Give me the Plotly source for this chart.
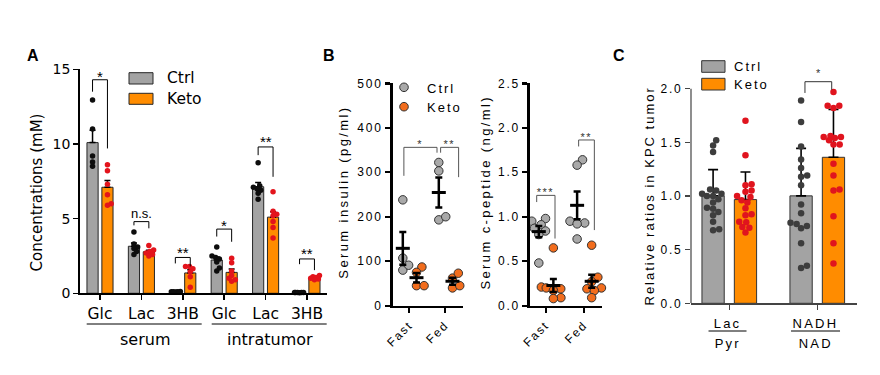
import numpy as np
import plotly.graph_objects as go

W, H = 880, 375

# ---------------- data ----------------
# Panel A : concentrations (mM)
a_cats = ["Glc", "Lac", "3HB", "Glc", "Lac", "3HB"]
a_groups = ["serum", "intratumor"]
a_ctrl = [
    [12.95, 11.0, 9.2, 8.8, 8.5],
    [4.1, 3.3, 3.1, 3.0, 2.8, 2.6],
    [0.12, 0.10, 0.10, 0.08, 0.10, 0.09],
    [3.1, 2.5, 2.4, 2.3, 2.1, 1.7, 1.5],
    [8.75, 7.2, 7.1, 7.0, 6.9, 6.7, 6.3],
    [0.05, 0.05, 0.06, 0.04, 0.05, 0.05],
]
a_keto = [
    [8.6, 8.2, 7.3, 6.6, 6.0, 5.9],
    [3.2, 2.9, 2.8, 2.7, 2.6, 2.5],
    [1.79, 1.79, 1.65, 1.45, 1.1, 0.4],
    [2.35, 2.05, 1.5, 1.2, 1.0, 0.9, 0.8],
    [6.8, 5.5, 5.3, 5.2, 4.8, 4.4, 3.7],
    [1.2, 1.1, 1.05, 1.0, 0.95, 0.9],
]
a_sig = ["*", "n.s.", "**", "*", "**", "**"]
# (bracket top, left leg end, right leg end, label centre)
a_brackets = [(14.3, 13.5, 9.7, 14.8), (4.8, 4.55, 4.35, 5.35), (2.4, 2.0, 1.8, 3.0),
              (4.3, 3.8, 3.45, 4.8), (9.8, 9.25, 7.8, 10.4), (2.3, 1.95, 1.55, 2.9)]

# Panel B : serum insulin (pg/ml) and c-peptide (ng/ml)
b_cats = ["Fast", "Fed"]
ins_ctrl = [[238, 107, 80, 91], [322, 303, 193, 200]]
ins_keto = [[87, 75, 45, 45], [62, 73, 40, 45]]
cpep_ctrl = [[0.98, 0.95, 0.91, 0.87, 0.84, 0.80, 0.48], [1.64, 1.58, 0.95, 0.93, 0.92, 0.75]]
cpep_keto = [[0.65, 0.21, 0.20, 0.19, 0.17, 0.09, 0.08], [0.68, 0.32, 0.27, 0.20, 0.19, 0.17, 0.09]]
# (x left, x right, top, left end, right end, label, label y)
ins_brackets = [(-0.15, 0.77, 356, 292, 344, "*", 371), (0.87, 1.37, 356, 344, 289, "**", 371)]
cpep_brackets = [(-0.235, 0.243, 1.24, 1.165, 0.755, "***", 1.31), (0.86, 1.27, 1.863, 1.79, 0.85, "**", 1.93)]

# Panel C : relative ratios in KPC tumor
c_num = ["Lac", "NADH"]
c_den = ["Pyr", "NAD"]
c_ctrl = [
    [1.52, 1.47, 1.41, 1.06, 1.05, 1.02, 1.02, 1.0, 1.0, 0.97, 0.94, 0.89, 0.88, 0.85, 0.82, 0.76, 0.69, 0.68],
    [1.89, 1.69, 1.46, 1.34, 1.26, 1.19, 1.18, 1.10, 0.92, 0.84, 0.75, 0.74, 0.72, 0.70, 0.56, 0.35, 0.33],
]
c_keto = [
    [1.70, 1.38, 1.11, 1.10, 1.05, 1.04, 1.0, 0.99, 0.96, 0.94, 0.885, 0.83, 0.82, 0.76, 0.755, 0.71, 0.705, 0.66],
    [1.97, 1.84, 1.84, 1.82, 1.56, 1.55, 1.55, 1.54, 1.52, 1.48, 1.48, 1.30, 1.19, 1.06, 1.05, 0.81, 0.56, 0.37],
]
c_brackets = [(0.86, 1.164, 2.065, 1.96, 1.99, "*", 2.17)]

# ---------------- geometry / style ----------------
GEO = {
    "A": dict(x=(80, 326.7), y=(69.3, 293.3), xr=(-0.483, 5.476), yr=(0, 15)),
    "B1": dict(x=(392.7, 463), y=(83.3, 305.7), xr=(-0.461, 1.492), yr=(0, 500)),
    "B2": dict(x=(530, 601.7), y=(83.3, 305.7), xr=(-0.41, 1.462), yr=(0, 2.5)),
    "C": dict(x=(691, 856.7), y=(67.2, 303.3), xr=(-0.435, 1.448), yr=(0, 2.2)),
}
FA = "DejaVu Sans"
FB = "Liberation Sans"
GREY_A, ORANGE = "#a3a3a3", "#ff8c00"
DOT_CTRL_A, DOT_KETO_A = "#0d0d0d", "#e3141c"
B_CTRL, B_KETO = "#a9a9a9", "#f26d1d"
C_CTRL_DOT, C_KETO_DOT = "#3d3d3d", "#e0141e"


def scales(g):
    xs = (g["x"][1] - g["x"][0]) / (g["xr"][1] - g["xr"][0])
    ys = (g["y"][1] - g["y"][0]) / (g["yr"][1] - g["yr"][0])
    return xs, ys


def mean(v):
    return float(np.mean(v))


def sem(v):
    return float(np.std(v, ddof=1) / np.sqrt(len(v)))


def sd(v):
    return float(np.std(v, ddof=1))


def swarm(vals, ys, d, maxoff):
    """Beeswarm offsets (px) so that markers of diameter d don't overlap."""
    order = np.argsort(vals, kind="stable")
    placed = []
    offs = [0.0] * len(vals)
    grid = list(np.arange(-maxoff, maxoff + 0.01, 0.5))
    for i in order:
        y = vals[i] * ys
        cands = [0.0]
        for py, px in placed:
            dy = abs(py - y)
            if dy < d:
                dx = np.sqrt(d * d - dy * dy)
                cands += [px + dx + 1e-6, px - dx - 1e-6]
        cands = [c for c in cands if abs(c) <= maxoff]
        ok = [c for c in cands if all((c - px) ** 2 + (y - py) ** 2 >= d * d - 1e-6 for py, px in placed)]
        if ok:
            best = min(ok, key=lambda c: (round(abs(c), 4), -c))
        else:
            best = max(grid, key=lambda c: (min((c - px) ** 2 + (y - py) ** 2 for py, px in placed), -abs(c)))
        placed.append((y, best))
        offs[i] = best
    return offs


fig = go.Figure()
shapes, anns = [], []


def pann(text, x, y, size, font=FB, color="black", xanchor="center", yanchor="middle",
         angle=0, ls=None, bold=False, xref="paper", yref="paper", yshift=0):
    a = dict(text=("<b>%s</b>" % text) if bold else text, showarrow=False,
             x=x / W if xref == "paper" else x, y=1 - y / H if yref == "paper" else y,
             xref=xref, yref=yref, xanchor=xanchor, yanchor=yanchor, textangle=angle,
             font=dict(family=font, size=size, color=color), yshift=yshift)
    if ls is not None:
        a["name"] = "ls%s" % ls
    anns.append(a)


def bracket(xref, yref, x0, x1, top, yl, yr, color, width):
    shapes.append(dict(type="path", xref=xref, yref=yref,
                       path="M %f,%f L %f,%f L %f,%f L %f,%f" % (x0, yl, x0, top, x1, top, x1, yr),
                       line=dict(color=color, width=width)))


# ---------------- Panel A ----------------
gA = GEO["A"]
xsA, ysA = scales(gA)
OFF_A, BW_A = 0.18, 0.27
pos = list(range(len(a_cats)))
for vals, off, col in [(a_ctrl, -OFF_A, GREY_A), (a_keto, OFF_A, ORANGE)]:
    fig.add_bar(x=[p + off for p in pos], y=[mean(v) for v in vals], width=BW_A,
                marker=dict(color=col, line=dict(color="#262626", width=1)),
                error_y=dict(type="data", symmetric=False, array=[sem(v) for v in vals],
                             arrayminus=[0] * len(vals), color="black", thickness=1.5, width=3),
                xaxis="x", yaxis="y", showlegend=False, hoverinfo="skip")
for vals, off, col in [(a_ctrl, -OFF_A, DOT_CTRL_A), (a_keto, OFF_A, DOT_KETO_A)]:
    xx, yy = [], []
    for p, v in zip(pos, vals):
        o = swarm(v, ysA, 4.0, 5.0)
        xx += [p + off + oo / xsA for oo in o]
        yy += v
    fig.add_scatter(x=xx, y=yy, mode="markers", marker=dict(size=5.5, color=col),
                    cliponaxis=False, xaxis="x", yaxis="y", showlegend=False, hoverinfo="skip")
for p, (top, yl, yr, ly), s in zip(pos, a_brackets, a_sig):
    bracket("x", "y", p - OFF_A, p + OFF_A, top, yl, yr, "black", 1)
    if s == "n.s.":
        pann(s, p, ly, 13, font=FB, xref="x", yref="y")
    else:
        pann(s, p, ly, 15, font=FB, xref="x", yref="y", yshift=-4)

# group labels under the x axis
for (x0, x1), name in zip([(86.7, 201.7), (211.7, 326.7)], a_groups):
    shapes.append(dict(type="line", xref="paper", yref="paper", x0=x0 / W, x1=x1 / W,
                       y0=1 - 324 / H, y1=1 - 324 / H, line=dict(color="black", width=1)))
    pann(name, (x0 + x1) / 2 + 0.5, 339, 16, font=FA)

# legend A
for (y0, y1), col, name in [((72.7, 84), GREY_A, "Ctrl"), ((93.3, 104.3), ORANGE, "Keto")]:
    shapes.append(dict(type="rect", xref="paper", yref="paper", x0=129 / W, x1=153 / W,
                       y0=1 - y1 / H, y1=1 - y0 / H, fillcolor=col, line=dict(color="#262626", width=1)))
    pann(name, 165, (y0 + y1) / 2, 15.5, font=FA, xanchor="left")

pann("Concentrations (mM)", 36.5, 193, 15, font=FA, angle=-90)
pann("A", 33, 55, 16, bold=True)

# ---------------- Panel B ----------------
OFF_B = 0.18
for key, xa, ya, ctrl, keto, brs in [("B1", "x2", "y2", ins_ctrl, ins_keto, ins_brackets),
                                     ("B2", "x3", "y3", cpep_ctrl, cpep_keto, cpep_brackets)]:
    g = GEO[key]
    xs, ys = scales(g)
    for vals, off, col in [(ctrl, -OFF_B, B_CTRL), (keto, OFF_B + 0.02, B_KETO)]:
        xx, yy = [], []
        for p, v in enumerate(vals):
            o = swarm(v, ys, 7.6, 12.0)
            xx += [p + off + oo / xs for oo in o]
            yy += v
        fig.add_scatter(x=xx, y=yy, mode="markers",
                        marker=dict(size=8.5, color=col, line=dict(color="#333333", width=1)),
                        cliponaxis=False, xaxis=xa, yaxis=ya, showlegend=False, hoverinfo="skip")
        fig.add_scatter(x=[p + off for p in range(len(vals))], y=[mean(v) for v in vals],
                        mode="markers",
                        marker=dict(symbol="line-ew", size=10, color="black",
                                    line=dict(color="black", width=3)),
                        error_y=dict(type="data", array=[sem(v) for v in vals], color="black",
                                     thickness=2.5, width=3.5),
                        cliponaxis=False, xaxis=xa, yaxis=ya, showlegend=False, hoverinfo="skip")
    for x0, x1, top, yl, yr, lab, ly in brs:
        bracket(xa, ya, x0, x1, top, yl, yr, "#555555", 1)
        pann(lab, (x0 + x1) / 2, ly, 11, color="#333333", xref=xa, yref=ya, yshift=-3, ls=1.5)

# legend B
for cy, col, name in [(87.3, B_CTRL, "Ctrl"), (106.7, B_KETO, "Keto")]:
    shapes.append(dict(type="circle", xref="paper", yref="paper", x0=(404 - 4.3) / W, x1=(404 + 4.3) / W,
                       y0=1 - (cy + 4.3) / H, y1=1 - (cy - 4.3) / H, fillcolor=col,
                       line=dict(color="#333333", width=1)))
    pann(name, 429, cy + 1, 13, xanchor="left", ls=2)

pann("Serum insulin (pg/ml)", 343, 192.5, 13, angle=-90, ls=2.4)
pann("Serum c-peptide (ng/ml)", 485.5, 192.5, 13, angle=-90, ls=2.4)
pann("B", 328.5, 55, 16, bold=True)

# ---------------- Panel C ----------------
gC = GEO["C"]
xsC, ysC = scales(gC)
OFF_C, BW_C = 0.184, 0.253
posC = list(range(len(c_num)))
for vals, off, col in [(c_ctrl, -OFF_C, GREY_A), (c_keto, OFF_C, ORANGE)]:
    fig.add_bar(x=[p + off for p in posC], y=[mean(v) for v in vals], width=BW_C,
                marker=dict(color=col, line=dict(color="#333333", width=1)),
                error_y=dict(type="data", symmetric=False, array=[sd(v) for v in vals],
                             arrayminus=[0] * len(vals), color="black", thickness=1.6, width=5),
                xaxis="x4", yaxis="y4", showlegend=False, hoverinfo="skip")
for vals, off, col in [(c_ctrl, -OFF_C, C_CTRL_DOT), (c_keto, OFF_C, C_KETO_DOT)]:
    xx, yy = [], []
    for p, v in zip(posC, vals):
        o = swarm(v, ysC, 6.2, 11.0)
        xx += [p + off + oo / xsC for oo in o]
        yy += v
    fig.add_scatter(x=xx, y=yy, mode="markers", marker=dict(size=6.5, color=col),
                    cliponaxis=False, xaxis="x4", yaxis="y4", showlegend=False, hoverinfo="skip")
for x0, x1, top, yl, yr, lab, ly in c_brackets:
    bracket("x4", "y4", x0, x1, top, yl, yr, "#333333", 1)
    pann(lab, (x0 + x1) / 2, ly, 11, color="#333333", xref="x4", yref="y4", yshift=-3)
# y axis line up to 2.0
shapes.append(dict(type="line", xref="x4 domain", yref="y4", x0=0, x1=0, y0=0, y1=2.0,
                   line=dict(color="#444444", width=1.2)))
# fraction labels
for p, num, den, half in zip(posC, c_num, c_den, [19, 24.5]):
    cx = p - 0.02
    shapes.append(dict(type="line", xref="x4", yref="paper", x0=cx - half / xsC, x1=cx + half / xsC,
                       y0=1 - 331 / H, y1=1 - 331 / H, line=dict(color="black", width=1)))
    pann(num, cx, 323.5, 13, xref="x4", ls=2.2)
    pann(den, cx, 343.5, 13, xref="x4", ls=2.2)

# legend C
for (y0, y1), col, name in [((60.7, 72.3), GREY_A, "Ctrl"), ((78.3, 90), ORANGE, "Keto")]:
    shapes.append(dict(type="rect", xref="paper", yref="paper", x0=701.7 / W, x1=725 / W,
                       y0=1 - y1 / H, y1=1 - y0 / H, fillcolor=col, line=dict(color="#333333", width=1)))
    pann(name, 736, (y0 + y1) / 2 + 0.5, 13, xanchor="left", ls=2)

pann("Relative ratios in KPC tumor", 649, 195.5, 13, angle=-90, ls=2)
pann("C", 619, 56, 16, bold=True)


# ---------------- axes ----------------
def dom(g):
    return [g["x"][0] / W, g["x"][1] / W], [1 - g["y"][1] / H, 1 - g["y"][0] / H]


common = dict(showgrid=False, zeroline=False, ticks="outside", fixedrange=True, automargin=False)
dx, dy = dom(GEO["A"])
fig.update_layout(
    xaxis=dict(domain=dx, range=list(GEO["A"]["xr"]), anchor="y", tickvals=pos, ticktext=a_cats,
               tickfont=dict(family=FA, size=15.5, color="black"), showline=True, linecolor="black",
               linewidth=1.8, ticklen=5, tickwidth=1.5, tickcolor="black", **common),
    yaxis=dict(domain=dy, range=list(GEO["A"]["yr"]), anchor="x", tickvals=[0, 5, 10, 15],
               tickfont=dict(family=FA, size=14, color="black"), showline=True, linecolor="black",
               linewidth=1.8, ticklen=5, tickwidth=1.5, tickcolor="black", **common),
)
for key, xa, ya, yt, fmt in [("B1", "xaxis2", "yaxis2", [0, 100, 200, 300, 400, 500], "d"),
                             ("B2", "xaxis3", "yaxis3", [0, 0.5, 1.0, 1.5, 2.0, 2.5], ".1f")]:
    g = GEO[key]
    dx, dy = dom(g)
    fig.update_layout({
        xa: dict(domain=dx, range=list(g["xr"]), anchor=ya.replace("axis", ""), tickvals=[0, 1],
                 ticktext=b_cats, tickangle=-45, tickfont=dict(family=FB, size=12, color="black"),
                 showline=True, linecolor="black", linewidth=2.6, ticklen=5, tickwidth=2.4,
                 tickcolor="black", **common),
        ya: dict(domain=dy, range=list(g["yr"]), anchor=xa.replace("axis", ""), tickvals=yt,
                 tickformat=fmt, tickfont=dict(family=FB, size=12, color="black"), showline=True,
                 linecolor="black", linewidth=2.6, ticklen=5, tickwidth=2.4, tickcolor="black", **common),
    })
dx, dy = dom(GEO["C"])
fig.update_layout(
    xaxis4=dict(domain=dx, range=list(GEO["C"]["xr"]), anchor="y4", tickvals=posC, showticklabels=False,
                showline=True, linecolor="#444444", linewidth=1.2, ticklen=5, tickwidth=1.2,
                tickcolor="#444444", **common),
    yaxis4=dict(domain=dy, range=list(GEO["C"]["yr"]), anchor="x4", tickvals=[0, 0.5, 1.0, 1.5, 2.0],
                tickformat=".1f", tickfont=dict(family=FB, size=12, color="black"), showline=False,
                ticklen=5, tickwidth=1.2, tickcolor="#444444", **common),
)

fig.update_layout(width=W, height=H, margin=dict(l=0, r=0, t=0, b=0, pad=0, autoexpand=False),
                  barmode="overlay", plot_bgcolor="white", paper_bgcolor="white", shapes=shapes,
                  annotations=anns, showlegend=False)

post = r"""
document.documentElement.style.margin = '0';
document.documentElement.style.padding = '0';
document.documentElement.style.overflow = 'hidden';
document.body.style.margin = '0';
document.body.style.padding = '0';
document.body.style.overflow = 'hidden';
var gd = document.getElementById('{plot_id}');
function applyLS(){
  ['.x2tick text','.x3tick text','.y2tick text','.y3tick text','.y4tick text'].forEach(function(s){
    gd.querySelectorAll(s).forEach(function(t){ t.style.letterSpacing = '1.8px'; });
  });
  var la = (gd.layout && gd.layout.annotations) || [];
  gd.querySelectorAll('g.annotation').forEach(function(g){
    var i = parseInt(g.getAttribute('data-index'));
    var a = la[i];
    if (a && a.name && a.name.indexOf('ls') === 0) {
      var v = a.name.slice(2);
      g.querySelectorAll('text').forEach(function(t){ t.style.letterSpacing = v + 'px'; });
    }
  });
}
applyLS();
gd.on('plotly_afterplot', applyLS);
"""
fig.write_html("out.html", post_script=post, config={"staticPlot": True})
